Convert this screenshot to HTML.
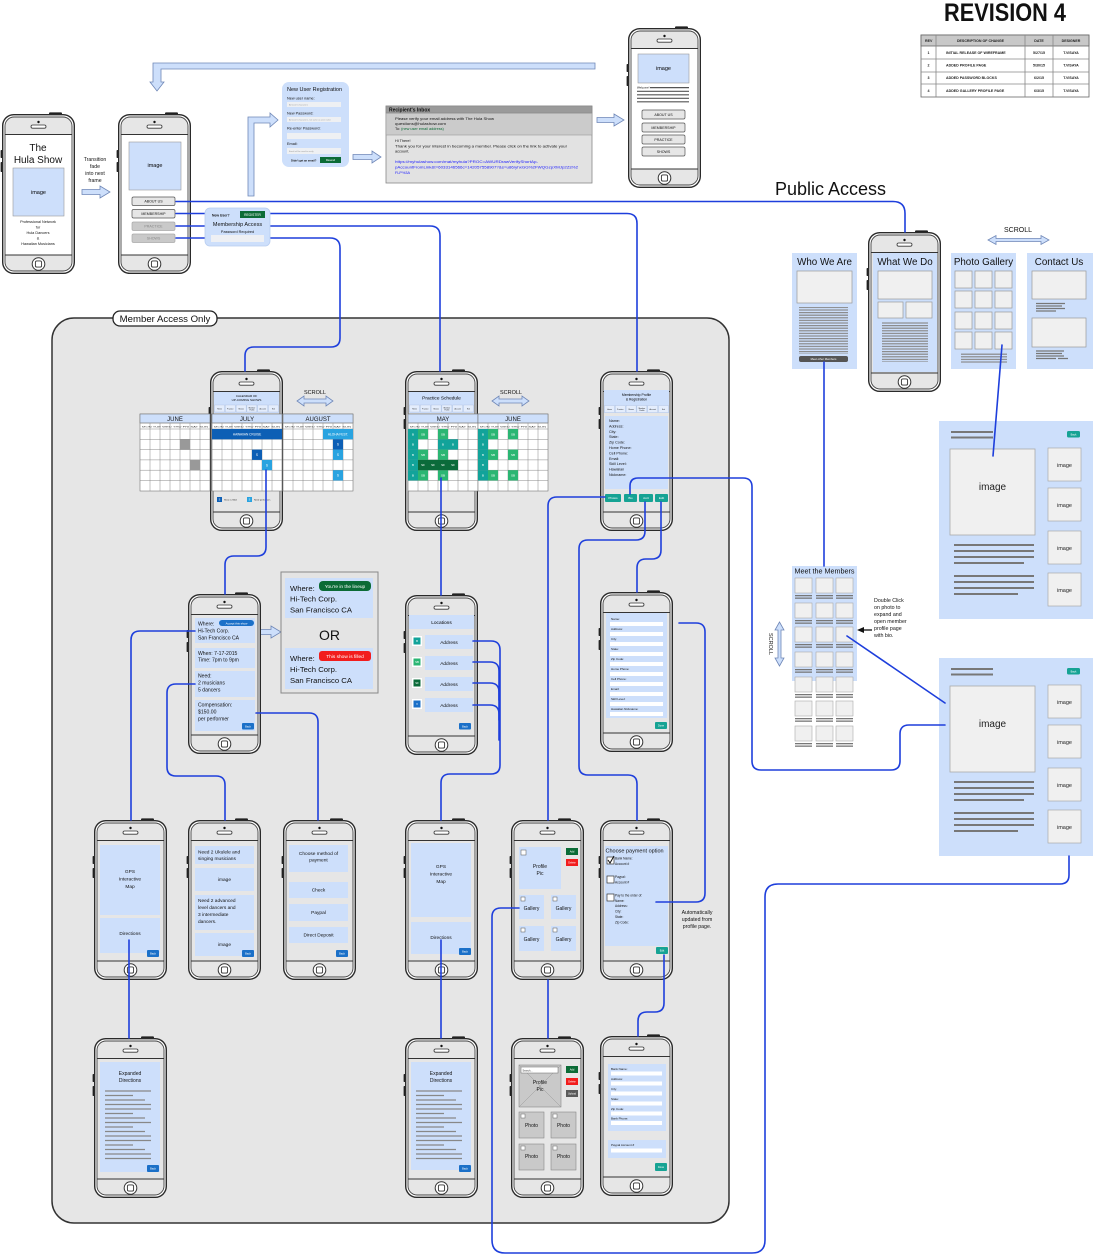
<!DOCTYPE html>
<html><head><meta charset="utf-8"><style>
html,body{margin:0;padding:0;background:#fff;}
svg{display:block;font-family:"Liberation Sans",Arial,sans-serif;}
</style></head><body>
<svg width="1093" height="1255" viewBox="0 0 1093 1255" xmlns="http://www.w3.org/2000/svg" xmlns:xlink="http://www.w3.org/1999/xlink">
<defs>
<g id="ph">
<rect x="47" y="-1.6" width="13" height="3.2" rx="1" fill="#222"/>
<rect x="-1.4" y="36" width="2.8" height="8" rx="0.8" fill="#222"/>
<rect x="-1.4" y="48" width="2.8" height="10" rx="0.8" fill="#222"/>
<rect x="0.7" y="0.7" width="71.6" height="158.6" rx="11" fill="#fff" stroke="#2a2a2a" stroke-width="1.4"/>
<rect x="3" y="3" width="67" height="154" rx="9" fill="#e6e6e6" stroke="#444" stroke-width="0.9"/>
<path d="M3 20.5H70M3 141H70" stroke="#333" stroke-width="0.9"/>
<circle cx="36.5" cy="8" r="1.2" fill="#111"/>
<rect x="29" y="11" width="15" height="3.2" rx="1.6" fill="#fff" stroke="#333" stroke-width="0.8"/>
<circle cx="36.5" cy="150" r="6.3" fill="#fff" stroke="#333" stroke-width="1"/>
<rect x="33.4" y="146.9" width="6.2" height="6.2" rx="1.5" fill="none" stroke="#333" stroke-width="0.9"/>
</g>
<g id="mg">
<rect x="0" y="414" width="70" height="77" fill="#fff" stroke="#777" stroke-width="0.6"/>
<rect x="0" y="414" width="70" height="9" fill="#cddffb" stroke="#777" stroke-width="0.6"/>
<path d="M0 423h70M0 429h70M0 439.3h70M0 449.6h70M0 459.9h70M0 470.2h70M0 480.5h70M10 423V491M20 423V491M30 423V491M40 423V491M50 423V491M60 423V491" stroke="#888" stroke-width="0.5" fill="none"/>
<text x="2" y="427.3" font-size="2" textLength="66" lengthAdjust="spacingAndGlyphs" fill="#333">MON TUE WED THU FRI SAT SUN</text>
</g>
<g id="nav" font-size="1.8" text-anchor="middle" fill="#222">
<rect x="0" y="0" width="10" height="7" fill="#e4edfc" stroke="#9fb3d6" stroke-width="0.3"/>
<rect x="10.8" y="0" width="10" height="7" fill="#e4edfc" stroke="#9fb3d6" stroke-width="0.3"/>
<rect x="21.6" y="0" width="10" height="7" fill="#e4edfc" stroke="#9fb3d6" stroke-width="0.3"/>
<rect x="32.4" y="0" width="10" height="7" fill="#e4edfc" stroke="#9fb3d6" stroke-width="0.3"/>
<rect x="43.2" y="0" width="10" height="7" fill="#e4edfc" stroke="#9fb3d6" stroke-width="0.3"/>
<rect x="54" y="0" width="10" height="7" fill="#e4edfc" stroke="#9fb3d6" stroke-width="0.3"/>
<text x="5" y="4.3">Home</text><text x="15.8" y="4.3">Practice</text><text x="26.6" y="4.3">Shows</text><text x="37.4" y="3.3">Member</text><text x="37.4" y="5.5">Profile</text><text x="48.2" y="4.3">Account</text><text x="59" y="4.3">Exit</text>
</g>
<g id="mc">
<rect x="0" y="0" width="17" height="15" fill="#f0f0f0" stroke="#aaa" stroke-width="0.6"/>
<rect x="0" y="17" width="17" height="1.3" fill="#777"/>
<rect x="0" y="19.5" width="17" height="1.3" fill="#777"/>
</g>
<g id="gi">
<rect x="0" y="0" width="33" height="33" fill="#f0f0f0" stroke="#aaa" stroke-width="0.7"/>
<text x="16.5" y="19" font-size="5.5" text-anchor="middle" fill="#222">image</text>
</g>
<g id="gp">
<rect x="939" y="0" width="154" height="198" fill="#cddffb"/>
<rect x="951" y="10" width="42" height="2" fill="#777"/>
<rect x="951" y="15.5" width="42" height="2" fill="#777"/>
<rect x="1067" y="10" width="13" height="6.5" rx="1.5" fill="#16a394"/>
<text x="1073.5" y="14.3" font-size="2.6" fill="#fff" text-anchor="middle">Back</text>
<rect x="950" y="28" width="85" height="86" fill="#f0f0f0" stroke="#aaa" stroke-width="0.8"/>
<text x="992.5" y="69" font-size="10" text-anchor="middle" fill="#222">image</text>
<path d="M954 124h80M954 130h80M954 136h80M954 142h70M954 155h80M954 161h80M954 167h80M954 173h64" stroke="#777" stroke-width="2"/>
<use xlink:href="#gi" x="1048" y="27"/>
<use xlink:href="#gi" x="1048" y="67"/>
<use xlink:href="#gi" x="1048" y="110"/>
<use xlink:href="#gi" x="1048" y="152"/>
</g>
<pattern id="hl" width="4" height="2.6" patternUnits="userSpaceOnUse"><rect width="4" height="1.2" fill="#8a8a8a"/></pattern>
</defs>

<!-- Revision -->
<text x="944" y="21" font-size="25" font-weight="bold" textLength="122" lengthAdjust="spacingAndGlyphs" fill="#111">REVISION 4</text>
<rect x="921" y="35" width="168" height="62" fill="#fff" stroke="#666" stroke-width="0.8"/>
<rect x="921" y="35" width="168" height="11" fill="#c8c8c8" stroke="#666" stroke-width="0.8"/>
<path d="M921 59h168M921 72h168M921 84h168M936 35v62M1025 35v62M1053 35v62" stroke="#888" stroke-width="0.8"/>
<g font-size="3.6" font-weight="bold" fill="#222">
<text x="925" y="42">REV</text>
<text x="980.5" y="42" text-anchor="middle">DESCRIPTION OF CHANGE</text>
<text x="1039" y="42" text-anchor="middle">DATE</text>
<text x="1071" y="42" text-anchor="middle">DESIGNER</text>
<text x="928.5" y="54" text-anchor="middle">1</text><text x="946" y="54">INITIAL RELEASE OF WIREFRAME</text><text x="1039" y="54" text-anchor="middle">5/27/15</text><text x="1071" y="54" text-anchor="middle">T.VISAYA</text>
<text x="928.5" y="66.5" text-anchor="middle">2</text><text x="946" y="66.5">ADDED PROFILE PAGE</text><text x="1039" y="66.5" text-anchor="middle">5/30/15</text><text x="1071" y="66.5" text-anchor="middle">T.VISAYA</text>
<text x="928.5" y="79" text-anchor="middle">3</text><text x="946" y="79">ADDED PASSWORD BLOCKS</text><text x="1039" y="79" text-anchor="middle">6/2/15</text><text x="1071" y="79" text-anchor="middle">T.VISAYA</text>
<text x="928.5" y="92" text-anchor="middle">4</text><text x="946" y="92">ADDED GALLERY PROFILE PAGE</text><text x="1039" y="92" text-anchor="middle">6/3/15</text><text x="1071" y="92" text-anchor="middle">T.VISAYA</text>
</g>

<!-- Member area -->
<rect x="52" y="318" width="677" height="905" rx="22" fill="#e6e6e6" stroke="#333" stroke-width="1.5"/>

<!-- hollow arrows -->
<g fill="#cddffb" stroke="#6f87b7" stroke-width="0.8">
<polygon points="595,63 153,63 153,82 150,82 157,91 164,82 161,82 161,69 595,69"/>
<polygon points="82,189.5 100,189.5 100,186 110,192 100,198 100,194.5 82,194.5"/>
<polygon points="248,196 248,117 270,117 270,113 278,120 270,127 270,123 254,123 254,196"/>
<polygon points="353,154.5 372,154.5 372,151 381,157 372,163 372,159.5 353,159.5"/>
<polygon points="597,117.5 614,117.5 614,114 624,120 614,126 614,122.5 597,122.5"/>
<polygon points="255,629.5 271,629.5 271,626 281,632 271,638 271,634.5 255,634.5"/>
<polygon points="297,401 304,396 304,399 326,399 326,396 333,401 326,406 326,403 304,403 304,406"/>
<polygon points="492,401 499,396 499,399 522,399 522,396 529,401 522,406 522,403 499,403 499,406"/>
<polygon points="988,240 996,235.5 996,238.5 1041,238.5 1041,235.5 1049,240 1041,244.5 1041,241.5 996,241.5 996,244.5"/>
<polygon points="779.5,622 784,630 781,630 781,658 784,658 779.5,666 775,658 778,658 778,630 775,630"/>
</g>

<!-- Phones -->
<use xlink:href="#ph" x="2" y="114"/>
<use xlink:href="#ph" x="118" y="114"/>
<use xlink:href="#ph" x="628" y="28"/>
<use xlink:href="#ph" x="868" y="232"/>
<use xlink:href="#ph" x="210" y="371"/>
<use xlink:href="#ph" x="405" y="371"/>
<use xlink:href="#ph" x="600" y="371"/>
<use xlink:href="#ph" x="188" y="594"/>
<use xlink:href="#ph" x="405" y="595"/>
<use xlink:href="#ph" x="600" y="592"/>
<use xlink:href="#ph" x="94" y="820"/>
<use xlink:href="#ph" x="188" y="820"/>
<use xlink:href="#ph" x="283" y="820"/>
<use xlink:href="#ph" x="405" y="820"/>
<use xlink:href="#ph" x="511" y="820"/>
<use xlink:href="#ph" x="600" y="820"/>
<use xlink:href="#ph" x="94" y="1038"/>
<use xlink:href="#ph" x="405" y="1038"/>
<use xlink:href="#ph" x="511" y="1038"/>
<use xlink:href="#ph" x="600" y="1036"/>

<!-- white screens -->
<rect x="5.5" y="135" width="66" height="119.5" fill="#fff"/>
<rect x="121.5" y="135" width="66" height="119.5" fill="#fff"/>
<rect x="631.5" y="49" width="66" height="119.5" fill="#fff"/>

<!-- Phone A -->
<text x="38" y="151" font-size="10" text-anchor="middle" fill="#111">The</text>
<text x="38" y="163" font-size="10" text-anchor="middle" fill="#111">Hula Show</text>
<rect x="13" y="168" width="51" height="48" fill="#cddffb" stroke="#999" stroke-width="0.6"/>
<text x="38.5" y="194" font-size="5.5" text-anchor="middle">image</text>
<g font-size="3.8" text-anchor="middle" fill="#111">
<text x="38" y="223">Professional Network</text><text x="38" y="228.5">for</text><text x="38" y="234">Hula Dancers</text><text x="38" y="239.5">&amp;</text><text x="38" y="245">Hawaiian Musicians</text>
</g>
<g font-size="5.2" text-anchor="middle" fill="#111">
<text x="95" y="161">Transition</text><text x="95" y="168">fade</text><text x="95" y="175">into next</text><text x="95" y="182">frame</text>
</g>

<!-- Phone B -->
<rect x="129" y="142" width="52" height="48" fill="#cddffb" stroke="#999" stroke-width="0.6"/>
<text x="155" y="167" font-size="5.5" text-anchor="middle">image</text>
<rect x="132" y="197" width="43" height="8.5" rx="1.5" fill="#e6e6e6" stroke="#555" stroke-width="0.7"/>
<rect x="132" y="209.5" width="43" height="8.5" rx="1.5" fill="#e6e6e6" stroke="#555" stroke-width="0.7"/>
<rect x="132" y="222" width="43" height="8.5" rx="1.5" fill="#c9c9c9" stroke="#aaa" stroke-width="0.7"/>
<rect x="132" y="234" width="43" height="8.5" rx="1.5" fill="#c9c9c9" stroke="#aaa" stroke-width="0.7"/>
<g font-size="3.6" text-anchor="middle">
<text x="153.5" y="202.6" fill="#111">ABOUT US</text><text x="153.5" y="215.1" fill="#111">MEMBERSHIP</text><text x="153.5" y="227.6" fill="#888">PRACTICE</text><text x="153.5" y="239.6" fill="#888">SHOWS</text>
</g>

<!-- Welcome phone -->
<rect x="638" y="54" width="51" height="29" fill="#cddffb" stroke="#999" stroke-width="0.6"/>
<text x="663.5" y="70" font-size="5.5" text-anchor="middle">image</text>
<text x="637" y="88.5" font-size="2.8">Welcome!</text>
<path d="M650 87.6h39M637 91.3h52M637 94.8h52M637 98.3h52M637 101.8h52" stroke="#555" stroke-width="1.2"/>
<rect x="642" y="110" width="43" height="9" rx="1.5" fill="#e6e6e6" stroke="#555" stroke-width="0.7"/>
<rect x="642" y="123" width="43" height="9" rx="1.5" fill="#e6e6e6" stroke="#555" stroke-width="0.7"/>
<rect x="642" y="135" width="43" height="9" rx="1.5" fill="#e6e6e6" stroke="#555" stroke-width="0.7"/>
<rect x="642" y="147" width="43" height="9" rx="1.5" fill="#e6e6e6" stroke="#555" stroke-width="0.7"/>
<g font-size="3.6" text-anchor="middle" fill="#111">
<text x="663.5" y="115.8">ABOUT US</text><text x="663.5" y="128.8">MEMBERSHIP</text><text x="663.5" y="140.8">PRACTICE</text><text x="663.5" y="152.8">SHOWS</text>
</g>

<!-- New User Registration -->
<rect x="282" y="82" width="67" height="85" rx="7" fill="#cddffb"/>
<text x="287" y="91" font-size="5.5" fill="#111">New User Registration</text>
<g font-size="3.8" fill="#111">
<text x="287" y="99.5">New user name:</text><text x="287" y="114.5">New Password:</text><text x="287" y="129.5">Re-enter Password:</text><text x="287" y="145">Email:</text>
</g>
<rect x="287" y="102" width="54" height="5" fill="#eef0f3"/>
<rect x="287" y="117" width="54" height="5" fill="#eef0f3"/>
<rect x="287" y="133" width="54" height="6" fill="#eef0f3"/>
<rect x="287" y="148" width="54" height="6" fill="#eef0f3"/>
<g font-size="2.1" fill="#999">
<text x="289" y="105.5">At least 6 characters</text><text x="289" y="120.5">At least 6 characters, not same as user name</text><text x="289" y="152">Email will be used to verify</text>
</g>
<text x="291" y="161.4" font-size="2.7" font-weight="bold" fill="#111">Didn't get an email?</text>
<rect x="320" y="157" width="21" height="6" fill="#0b6b36"/>
<text x="330.5" y="161" font-size="2.7" fill="#fff" text-anchor="middle">Resend</text>

<!-- Inbox -->
<rect x="386" y="106" width="206" height="77" fill="#e2e2e2" stroke="#888" stroke-width="0.8"/>
<rect x="386" y="113" width="206" height="22" fill="#cbcbcb" stroke="#999" stroke-width="0.6"/>
<rect x="386" y="106" width="206" height="7" fill="#9a9a9a" stroke="#888" stroke-width="0.6"/>
<text x="389" y="111.6" font-size="5" font-weight="bold" fill="#111">Recipient's Inbox</text>
<g font-size="3.8" fill="#111">
<text x="395" y="120" textLength="99" lengthAdjust="spacingAndGlyphs">Please verify your email address with The Hula Show</text>
<text x="395" y="125" textLength="51" lengthAdjust="spacingAndGlyphs">questions@hulashow.com</text>
<text x="395" y="130">To: <tspan fill="#0b6b36">(new user email address)</tspan></text>
<text x="395" y="142">Hi There!</text>
<text x="395" y="147.5" textLength="172" lengthAdjust="spacingAndGlyphs">Thank you for your interest in becoming a member. Please click on the link to activate your</text>
<text x="395" y="152.5">account.</text>
</g>
<g font-size="3.8" fill="#1a1aff">
<text x="395" y="163" textLength="143" lengthAdjust="spacingAndGlyphs">https://myhulashow.com/mat/myhula?PROC=AWURDrawVerifyShortAp-</text>
<text x="395" y="168.5" textLength="183" lengthAdjust="spacingAndGlyphs">pAccountFromLink&amp;t=6033146566c=142057558907?&amp;s=u86/yhxGG%2FWQGzpXMJp2Zs%2</text>
<text x="395" y="174">FLP%3A</text>
</g>

<!-- Public Access -->
<text x="775" y="195" font-size="18" fill="#111">Public Access</text>
<text x="1018" y="232" font-size="7" text-anchor="middle" fill="#111">SCROLL</text>

<!-- Who We Are -->
<rect x="792" y="253" width="65" height="116" fill="#cddffb"/>
<text x="824.5" y="265" font-size="9.8" text-anchor="middle" fill="#111">Who We Are</text>
<rect x="797" y="271" width="55" height="32" fill="#f0f0f0" stroke="#999" stroke-width="0.7"/>
<rect x="799" y="307" width="49" height="47" fill="url(#hl)"/>
<rect x="799" y="356" width="49" height="6" rx="2" fill="#555"/>
<text x="823.5" y="360.2" font-size="2.8" fill="#fff" text-anchor="middle">Meet other Members</text>

<!-- What We Do -->
<rect x="873" y="253" width="64" height="119" fill="#cddffb"/>
<text x="905" y="265" font-size="9.8" text-anchor="middle" fill="#111">What We Do</text>
<rect x="878" y="271" width="54" height="28" fill="#f0f0f0" stroke="#999" stroke-width="0.7"/>
<rect x="878" y="302" width="25" height="16" fill="#f0f0f0" stroke="#999" stroke-width="0.7"/>
<rect x="906" y="302" width="26" height="16" fill="#f0f0f0" stroke="#999" stroke-width="0.7"/>
<rect x="882" y="322" width="46" height="40" fill="url(#hl)"/>

<!-- Photo Gallery -->
<rect x="951" y="253" width="65" height="116" fill="#cddffb"/>
<text x="983.5" y="265" font-size="9.8" text-anchor="middle" fill="#111">Photo Gallery</text>
<g fill="#f0f0f0" stroke="#999" stroke-width="0.7">
<rect x="955" y="271" width="17" height="17"/><rect x="975" y="271" width="17" height="17"/><rect x="995" y="271" width="17" height="17"/>
<rect x="955" y="291" width="17" height="17"/><rect x="975" y="291" width="17" height="17"/><rect x="995" y="291" width="17" height="17"/>
<rect x="955" y="312" width="17" height="17"/><rect x="975" y="312" width="17" height="17"/><rect x="995" y="312" width="17" height="17"/>
<rect x="955" y="332" width="17" height="17"/><rect x="975" y="332" width="17" height="17"/><rect x="995" y="332" width="17" height="17"/>
</g>
<rect x="961" y="353" width="46" height="10" fill="url(#hl)"/>

<!-- Contact Us -->
<rect x="1027" y="253" width="66" height="116" fill="#cddffb"/>
<text x="1059" y="265" font-size="9.8" text-anchor="middle" fill="#111">Contact Us</text>
<rect x="1032" y="271" width="54" height="28" fill="#f0f0f0" stroke="#999" stroke-width="0.7"/>
<rect x="1032" y="318" width="54" height="29" fill="#f0f0f0" stroke="#999" stroke-width="0.7"/>
<path d="M1036 303.5h29M1036 306h26M1036 308.5h29M1036 311h20M1036 351h28M1036 353.5h26M1036 356h28M1036 358.5h20M1058 358.5h10" stroke="#777" stroke-width="1.2"/>

<!-- Right gallery panels -->
<use xlink:href="#gp" x="0" y="421"/>
<use xlink:href="#gp" x="0" y="658"/>

<!-- Meet the Members -->
<rect x="792" y="566" width="65" height="115" fill="#cddffb"/>
<text x="824.5" y="573.5" font-size="7.2" text-anchor="middle" fill="#111">Meet the Members</text>
<use xlink:href="#mc" x="795" y="578"/><use xlink:href="#mc" x="816" y="578"/><use xlink:href="#mc" x="836" y="578"/>
<use xlink:href="#mc" x="795" y="603"/><use xlink:href="#mc" x="816" y="603"/><use xlink:href="#mc" x="836" y="603"/>
<use xlink:href="#mc" x="795" y="627"/><use xlink:href="#mc" x="816" y="627"/><use xlink:href="#mc" x="836" y="627"/>
<use xlink:href="#mc" x="795" y="652"/><use xlink:href="#mc" x="816" y="652"/><use xlink:href="#mc" x="836" y="652"/>
<use xlink:href="#mc" x="795" y="677"/><use xlink:href="#mc" x="816" y="677"/><use xlink:href="#mc" x="836" y="677"/>
<use xlink:href="#mc" x="795" y="701"/><use xlink:href="#mc" x="816" y="701"/><use xlink:href="#mc" x="836" y="701"/>
<use xlink:href="#mc" x="795" y="726"/><use xlink:href="#mc" x="816" y="726"/><use xlink:href="#mc" x="836" y="726"/>
<text transform="translate(769,644) rotate(90)" font-size="5.5" text-anchor="middle" fill="#111">SCROLL</text>
<g font-size="5.3" fill="#111">
<text x="874" y="602">Double Click</text><text x="874" y="609">on photo to</text><text x="874" y="616">expand and</text><text x="874" y="623">open member</text><text x="874" y="630">profile page</text><text x="874" y="637">with bio.</text>
</g>
<polygon points="857,630 864,627 864,633" fill="#111"/>
<path d="M863 630h9" stroke="#111" stroke-width="1.3"/>

<!-- Member Access label -->
<rect x="113" y="311" width="104" height="15" rx="7" fill="#fff" stroke="#222" stroke-width="1.3"/>
<text x="165" y="322" font-size="9.6" text-anchor="middle" fill="#111">Member Access Only</text>

<!-- Calendar phone -->
<rect x="214" y="392" width="65" height="21" fill="#cddffb"/>
<text x="246.5" y="396.8" font-size="3" text-anchor="middle">CALENDAR OF</text>
<text x="246.5" y="400.8" font-size="3" text-anchor="middle">UP-COMING SHOWS</text>
<use xlink:href="#nav" x="214.5" y="405"/>
<use xlink:href="#mg" x="140" y="0"/>
<use xlink:href="#mg" x="212" y="0"/>
<use xlink:href="#mg" x="283" y="0"/>
<g font-size="6" text-anchor="middle" fill="#111">
<text x="175" y="421">JUNE</text><text x="247" y="421">JULY</text><text x="318" y="421">AUGUST</text>
</g>
<rect x="180" y="439.3" width="10" height="10.3" fill="#999"/>
<rect x="190" y="459.9" width="10" height="10.3" fill="#999"/>
<rect x="212" y="429" width="70" height="10.3" fill="#0d5fb5"/>
<text x="247" y="435.4" font-size="3.2" text-anchor="middle" fill="#fff">HAWAIIAN CRUISE</text>
<rect x="252" y="449.6" width="10" height="10.3" fill="#0d5fb5"/>
<rect x="262" y="459.9" width="10" height="10.3" fill="#29a3e0"/>
<rect x="323" y="429" width="30" height="10.3" fill="#29a3e0"/>
<text x="338" y="435.4" font-size="3.2" text-anchor="middle" fill="#fff">ALOHA FEST.</text>
<rect x="333" y="439.3" width="10" height="10.3" fill="#0d5fb5"/>
<rect x="333" y="449.6" width="10" height="10.3" fill="#29a3e0"/>
<rect x="333" y="470.2" width="10" height="10.3" fill="#29a3e0"/>
<g font-size="3.2" text-anchor="middle" fill="#fff">
<text x="257" y="456">S</text><text x="267" y="466.3">S</text><text x="338" y="445.7">S</text><text x="338" y="456">S</text><text x="338" y="476.6">S</text>
</g>
<rect x="217" y="497" width="5" height="5" fill="#0d5fb5"/>
<rect x="247" y="497" width="5" height="5" fill="#29a3e0"/>
<g font-size="2.2" fill="#222"><text x="224" y="500.6">Show is filled</text><text x="254" y="500.6">Need performers</text></g>
<g font-size="2.5" fill="#fff" text-anchor="middle"><text x="219.5" y="500.6">S</text><text x="249.5" y="500.6">S</text></g>
<text x="315" y="394" font-size="5.5" text-anchor="middle" fill="#111">SCROLL</text>

<!-- Practice phone -->
<rect x="409" y="392" width="65" height="21" fill="#cddffb"/>
<text x="441.5" y="399.5" font-size="4.8" text-anchor="middle">Practice Schedule</text>
<use xlink:href="#nav" x="409.5" y="405"/>
<use xlink:href="#mg" x="408" y="0"/>
<use xlink:href="#mg" x="478" y="0"/>
<g font-size="6" text-anchor="middle" fill="#111"><text x="443" y="421">MAY</text><text x="513" y="421">JUNE</text></g>
<g fill="#12a39a">
<rect x="408" y="429" width="10" height="10.3"/><rect x="408" y="439.3" width="10" height="10.3"/><rect x="408" y="449.6" width="10" height="10.3"/><rect x="408" y="459.9" width="10" height="10.3"/><rect x="408" y="470.2" width="10" height="10.3"/>
<rect x="438" y="439.3" width="10" height="10.3"/><rect x="448" y="439.3" width="10" height="10.3"/>
<rect x="478" y="429" width="10" height="10.3"/><rect x="478" y="439.3" width="10" height="10.3"/><rect x="478" y="449.6" width="10" height="10.3"/><rect x="478" y="459.9" width="10" height="10.3"/><rect x="478" y="470.2" width="10" height="10.3"/>
</g>
<g fill="#2bb673">
<rect x="418" y="429" width="10" height="10.3"/><rect x="438" y="429" width="10" height="10.3"/>
<rect x="418" y="449.6" width="10" height="10.3"/><rect x="438" y="449.6" width="10" height="10.3"/>
<rect x="418" y="470.2" width="10" height="10.3"/><rect x="438" y="470.2" width="10" height="10.3"/>
<rect x="488" y="429" width="10" height="10.3"/><rect x="508" y="429" width="10" height="10.3"/>
<rect x="488" y="449.6" width="10" height="10.3"/><rect x="508" y="449.6" width="10" height="10.3"/>
<rect x="488" y="470.2" width="10" height="10.3"/><rect x="508" y="470.2" width="10" height="10.3"/>
</g>
<g fill="#0b6b3a">
<rect x="418" y="459.9" width="10" height="10.3"/><rect x="428" y="459.9" width="10" height="10.3"/><rect x="438" y="459.9" width="10" height="10.3"/><rect x="448" y="459.9" width="10" height="10.3"/>
</g>
<g font-size="3" text-anchor="middle" fill="#fff">
<text x="413" y="435.3">B</text><text x="413" y="445.6">B</text><text x="413" y="455.9">B</text><text x="413" y="466.2">B</text><text x="413" y="476.5">B</text>
<text x="443" y="445.6">B</text><text x="453" y="445.6">B</text>
<text x="483" y="435.3">B</text><text x="483" y="445.6">B</text><text x="483" y="455.9">B</text><text x="483" y="466.2">B</text><text x="483" y="476.5">B</text>
<text x="423" y="435.3">SB</text><text x="443" y="435.3">SB</text><text x="423" y="455.9">SB</text><text x="443" y="455.9">SB</text><text x="423" y="476.5">SB</text><text x="443" y="476.5">SB</text>
<text x="493" y="435.3">SB</text><text x="513" y="435.3">SB</text><text x="493" y="455.9">SB</text><text x="513" y="455.9">SB</text><text x="493" y="476.5">SB</text><text x="513" y="476.5">SB</text>
<text x="423" y="466.2">SF</text><text x="433" y="466.2">SF</text><text x="443" y="466.2">SF</text><text x="453" y="466.2">SF</text>
</g>
<text x="511" y="394" font-size="5.5" text-anchor="middle" fill="#111">SCROLL</text>

<!-- Profile phone -->
<rect x="604" y="390" width="65" height="23" fill="#cddffb"/>
<text x="636.5" y="395.8" font-size="3.4" text-anchor="middle">Membership Profile</text>
<text x="636.5" y="400.3" font-size="3.4" text-anchor="middle">&amp; Registration</text>
<use xlink:href="#nav" x="604.5" y="405.5"/>
<rect x="605" y="416" width="63" height="73" fill="#cddffb"/>
<g font-size="3.7" fill="#111">
<text x="609" y="422">Name:</text><text x="609" y="427.4">Address:</text><text x="609" y="432.8">City:</text><text x="609" y="438.2">State:</text><text x="609" y="443.6">Zip Code:</text><text x="609" y="449">Home Phone:</text><text x="609" y="454.4">Cell Phone:</text><text x="609" y="459.8">Email:</text><text x="609" y="465.2">Skill Level:</text><text x="609" y="470.6">Hawaiian</text><text x="609" y="476">Nickname:</text>
</g>
<g fill="#16a394"><rect x="605" y="494" width="16" height="8" rx="1"/><rect x="624" y="494" width="13" height="8" rx="1"/><rect x="639" y="494" width="14" height="8" rx="1"/><rect x="655" y="494" width="13" height="8" rx="1"/></g>
<g font-size="3" fill="#fff" text-anchor="middle"><text x="613" y="499">Photos</text><text x="630.5" y="499">Bio</text><text x="646" y="499">Acct</text><text x="661.5" y="499">Edit</text></g>

<!-- Details phone -->
<g fill="#cddffb"><rect x="195" y="618" width="60" height="25"/><rect x="195" y="648" width="60" height="20"/><rect x="195" y="671" width="60" height="26"/><rect x="195" y="700" width="60" height="31"/></g>
<g font-size="5.1" fill="#111">
<text x="198" y="625.5">Where:</text><text x="198" y="632.5">Hi-Tech Corp.</text><text x="198" y="639.5">San Francisco CA</text>
<text x="198" y="655">When:  7-17-2015</text><text x="198" y="661.5">Time:  7pm to 9pm</text>
<text x="198" y="677.5">Need:</text><text x="198" y="684.5">2 musicians</text><text x="198" y="691.5">5 dancers</text>
<text x="198" y="706.5">Compensation:</text><text x="198" y="713.5">$150.00</text><text x="198" y="720.5">per performer</text>
</g>
<rect x="219" y="620" width="35" height="6" rx="3" fill="#1b70c8"/>
<text x="236.5" y="624.3" font-size="2.9" fill="#fff" text-anchor="middle">Accept this show</text>

<!-- OR box -->
<rect x="281" y="572" width="97" height="121" fill="#e4e4e4" stroke="#888" stroke-width="1"/>
<rect x="285" y="578" width="88" height="40" fill="#cddffb"/>
<rect x="285" y="648" width="88" height="41" fill="#cddffb"/>
<g font-size="7.7" fill="#111">
<text x="290" y="591">Where:</text><text x="290" y="601.5">Hi-Tech Corp.</text><text x="290" y="612.5">San Francisco CA</text>
<text x="290" y="661">Where:</text><text x="290" y="672">Hi-Tech Corp.</text><text x="290" y="683">San Francisco CA</text>
</g>
<rect x="319" y="581" width="52" height="10" rx="4" fill="#0b6b36"/>
<text x="345" y="588" font-size="4.8" fill="#fff" text-anchor="middle">You're in the lineup</text>
<rect x="319" y="651" width="52" height="10" rx="3" fill="#f21d1d"/>
<text x="345" y="658" font-size="4.8" fill="#fff" text-anchor="middle">This show is filled</text>
<text x="329.5" y="640" font-size="14" text-anchor="middle" fill="#111">OR</text>

<!-- Locations phone -->
<rect x="409" y="615" width="65" height="14" fill="#cddffb"/>
<text x="441.5" y="623.8" font-size="4.8" text-anchor="middle">Locations</text>
<g fill="#fff"><rect x="412" y="636" width="10" height="10"/><rect x="412" y="657" width="10" height="10"/><rect x="412" y="678" width="10" height="10"/><rect x="412" y="699" width="10" height="10"/></g>
<rect x="413.5" y="637.5" width="7" height="7" fill="#12a39a"/>
<rect x="413.5" y="658.5" width="7" height="7" fill="#2bb673"/>
<rect x="413.5" y="679.5" width="7" height="7" fill="#0b6b3a"/>
<rect x="413.5" y="700.5" width="7" height="7" fill="#1b70c8"/>
<g font-size="2.8" fill="#fff" text-anchor="middle"><text x="417" y="642">B</text><text x="417" y="663">SB</text><text x="417" y="684">SF</text><text x="417" y="705">V</text></g>
<g fill="#cddffb"><rect x="425" y="635" width="48" height="14"/><rect x="425" y="656" width="48" height="14"/><rect x="425" y="677" width="48" height="14"/><rect x="425" y="698" width="48" height="14"/></g>
<g font-size="4.8" text-anchor="middle" fill="#111"><text x="449" y="643.8">Address</text><text x="449" y="664.8">Address</text><text x="449" y="685.8">Address</text><text x="449" y="706.8">Address</text></g>

<!-- Edit phone -->
<rect x="606" y="613" width="61" height="105" fill="#cddffb"/>
<g font-size="3" fill="#111">
<text x="611" y="620">Name:</text><text x="611" y="630">Address:</text><text x="611" y="640">City:</text><text x="611" y="650">State:</text><text x="611" y="660">Zip Code:</text><text x="611" y="670">Home Phone:</text><text x="611" y="680">Cell Phone:</text><text x="611" y="690">Email:</text><text x="611" y="700">Skill Level:</text><text x="611" y="710">Hawaiian Nickname:</text>
</g>
<g fill="#fff">
<rect x="610" y="622" width="53" height="4"/><rect x="610" y="632" width="53" height="4"/><rect x="610" y="642" width="53" height="4"/><rect x="610" y="652" width="53" height="4"/><rect x="610" y="662" width="53" height="4"/><rect x="610" y="672" width="53" height="4"/><rect x="610" y="682" width="53" height="4"/><rect x="610" y="692" width="53" height="4"/><rect x="610" y="702" width="53" height="4"/><rect x="610" y="712" width="53" height="4"/>
</g>

<!-- GPS phone -->
<rect x="100" y="845" width="60" height="70" fill="#cddffb"/>
<rect x="100" y="918" width="60" height="35" fill="#cddffb"/>
<g font-size="4.8" text-anchor="middle" fill="#111"><text x="130" y="873">GPS</text><text x="130" y="880.5">Interactive</text><text x="130" y="888">Map</text><text x="130" y="935">Directions</text></g>

<!-- Need phone -->
<g fill="#cddffb"><rect x="195" y="846" width="59" height="18"/><rect x="195" y="868" width="59" height="23"/><rect x="195" y="895" width="59" height="35"/><rect x="195" y="933" width="59" height="23"/></g>
<g font-size="4.8" fill="#111">
<text x="198" y="853.5">Need 2 Ukulele and</text><text x="198" y="860">singing musicians</text>
<text x="198" y="902">Need 2 advanced</text><text x="198" y="909">level dancers and</text><text x="198" y="916">3 intermediate</text><text x="198" y="923">dancers.</text>
</g>
<g font-size="4.8" text-anchor="middle" fill="#111"><text x="224.5" y="881">image</text><text x="224.5" y="946">image</text></g>

<!-- Payment phone -->
<g fill="#cddffb"><rect x="289" y="845" width="59" height="27"/><rect x="289" y="882" width="59" height="16"/><rect x="289" y="904" width="59" height="17"/><rect x="289" y="927" width="59" height="16"/></g>
<g font-size="4.8" text-anchor="middle" fill="#111"><text x="318.5" y="855">Choose method of</text><text x="318.5" y="861.5">payment</text><text x="318.5" y="891.5">Check</text><text x="318.5" y="914">Paypal</text><text x="318.5" y="936.5">Direct Deposit</text></g>

<!-- GPS2 phone -->
<rect x="411" y="843" width="60" height="74" fill="#cddffb"/>
<rect x="411" y="922" width="60" height="32" fill="#cddffb"/>
<g font-size="4.8" text-anchor="middle" fill="#111"><text x="441" y="868">GPS</text><text x="441" y="875.5">Interactive</text><text x="441" y="883">Map</text><text x="441" y="939">Directions</text></g>

<!-- Gallery phone -->
<g fill="#cddffb"><rect x="519" y="847" width="42" height="42"/><rect x="519" y="895" width="25" height="24"/><rect x="551" y="895" width="25" height="24"/><rect x="519" y="926" width="25" height="25"/><rect x="551" y="926" width="25" height="25"/></g>
<g fill="#fff" stroke="#555" stroke-width="0.5"><rect x="521" y="850" width="5" height="5"/><rect x="521" y="897" width="4" height="4"/><rect x="553" y="897" width="4" height="4"/><rect x="521" y="928" width="4" height="4"/><rect x="553" y="928" width="4" height="4"/></g>
<g font-size="5" text-anchor="middle" fill="#111"><text x="540" y="868">Profile</text><text x="540" y="875">Pic</text><text x="531.5" y="910">Gallery</text><text x="563.5" y="910">Gallery</text><text x="531.5" y="941">Gallery</text><text x="563.5" y="941">Gallery</text></g>
<rect x="566" y="848" width="12" height="7" fill="#0b6b36"/><rect x="566" y="859" width="12" height="7" fill="#f21d1d"/>
<g font-size="2.6" fill="#fff" text-anchor="middle"><text x="572" y="852.6">Add</text><text x="572" y="863.6">Delete</text></g>

<!-- Payment option phone -->
<rect x="605" y="846" width="63" height="100" fill="#cddffb"/>
<text x="605.5" y="852.5" font-size="5.5" fill="#111">Choose payment option</text>
<g fill="#fff" stroke="#333" stroke-width="0.7"><rect x="607" y="857" width="7" height="7"/><rect x="607" y="876" width="7" height="7"/><rect x="607" y="894" width="7" height="7"/></g>
<path d="M608 860l2 3 4-7" stroke="#111" stroke-width="1" fill="none"/>
<g font-size="3.2" fill="#111">
<text x="615" y="859.5">Bank Name:</text><text x="615" y="865">Account #</text>
<text x="615" y="878">Paypal:</text><text x="615" y="883.5">Account #</text>
<text x="615" y="896.5">Pay to the order of:</text><text x="615" y="901.8">Name:</text><text x="615" y="907.2">Address:</text><text x="615" y="912.6">City:</text><text x="615" y="918">State:</text><text x="615" y="923.4">Zip Code:</text>
</g>
<g font-size="5.2" text-anchor="middle" fill="#111"><text x="697" y="914">Automatically</text><text x="697" y="921">updated from</text><text x="697" y="928">profile page.</text></g>

<!-- Expanded directions -->
<rect x="100" y="1062" width="60" height="110" fill="#cddffb"/>
<rect x="411" y="1062" width="60" height="108" fill="#cddffb"/>
<g font-size="5" text-anchor="middle" fill="#111"><text x="130" y="1075">Expanded</text><text x="130" y="1082">Directions</text><text x="441" y="1075">Expanded</text><text x="441" y="1082">Directions</text></g>
<path d="M105 1091h46M105 1095.5h28M105 1100h40M105 1104.5h46M105 1109h46M105 1113.5h28M105 1118h40M105 1122.5h46M105 1127h28M105 1131.5h40M105 1136h46M105 1140.5h46M105 1145h28M105 1149.5h40M105 1154h46M105 1158.5h46M416 1091h46M416 1095.5h28M416 1100h40M416 1104.5h46M416 1109h46M416 1113.5h28M416 1118h40M416 1122.5h46M416 1127h28M416 1131.5h40M416 1136h46M416 1140.5h46M416 1145h28M416 1149.5h40M416 1154h46M416 1158.5h46" stroke="#888" stroke-width="1.3"/>

<!-- Photo phone -->
<g fill="#c9c9c9" stroke="#888" stroke-width="0.6"><rect x="519" y="1065" width="42" height="42"/><rect x="519" y="1112" width="25" height="26"/><rect x="551" y="1112" width="25" height="26"/><rect x="519" y="1144" width="25" height="26"/><rect x="551" y="1144" width="25" height="26"/></g>
<path d="M519 1065L561 1107M561 1065L519 1107" stroke="#999" stroke-width="0.5"/>
<rect x="521" y="1067" width="37" height="6" fill="#fff" stroke="#666" stroke-width="0.5"/>
<text x="522.5" y="1071.5" font-size="2.5" fill="#333">Search...</text>
<g fill="#fff" stroke="#666" stroke-width="0.5"><rect x="521" y="1114" width="4" height="4"/><rect x="553" y="1114" width="4" height="4"/><rect x="521" y="1146" width="4" height="4"/><rect x="553" y="1146" width="4" height="4"/></g>
<g font-size="5" text-anchor="middle" fill="#111"><text x="540" y="1084">Profile</text><text x="540" y="1091">Pic</text><text x="531.5" y="1127">Photo</text><text x="563.5" y="1127">Photo</text><text x="531.5" y="1158">Photo</text><text x="563.5" y="1158">Photo</text></g>
<rect x="566" y="1066" width="12" height="7" fill="#0b6b36"/><rect x="566" y="1078" width="12" height="7" fill="#f21d1d"/><rect x="566" y="1090" width="12" height="7" fill="#5a5a5a"/>
<g font-size="2.6" fill="#fff" text-anchor="middle"><text x="572" y="1070.6">Add</text><text x="572" y="1082.6">Delete</text><text x="572" y="1094.6">Upload</text></g>

<!-- Bank phone -->
<rect x="608" y="1064" width="58" height="67" fill="#cddffb"/>
<rect x="608" y="1140" width="58" height="18" fill="#cddffb"/>
<g font-size="3" fill="#111"><text x="611" y="1070">Bank Name:</text><text x="611" y="1080">Address:</text><text x="611" y="1090">City:</text><text x="611" y="1100">State:</text><text x="611" y="1110">Zip Code:</text><text x="611" y="1119.5">Bank Phone:</text><text x="611" y="1146">Paypal Account #</text></g>
<g fill="#fff"><rect x="611" y="1071.5" width="51" height="4"/><rect x="611" y="1081.5" width="51" height="4"/><rect x="611" y="1091.5" width="51" height="4"/><rect x="611" y="1101.5" width="51" height="4"/><rect x="611" y="1111.5" width="51" height="4"/><rect x="611" y="1121" width="51" height="4"/><rect x="611" y="1148.5" width="51" height="4"/></g>

<!-- Back / Done / Edit buttons -->
<g fill="#1b70c8"><rect x="242" y="723" width="12" height="6.5" rx="1"/><rect x="459" y="723" width="12" height="6.5" rx="1"/><rect x="147" y="950" width="12" height="7" rx="1"/><rect x="242" y="950" width="12" height="7" rx="1"/><rect x="336" y="950" width="12" height="7" rx="1"/><rect x="459" y="948" width="12" height="7" rx="1"/><rect x="147" y="1165" width="12" height="7" rx="1"/><rect x="459" y="1165" width="12" height="7" rx="1"/></g>
<g fill="#16a394"><rect x="655" y="722" width="12" height="7" rx="1"/><rect x="656" y="947" width="12" height="7" rx="1"/><rect x="655" y="1163" width="12" height="8" rx="1"/></g>
<g font-size="2.6" fill="#fff" text-anchor="middle">
<text x="248" y="727.3">Back</text><text x="465" y="727.3">Back</text><text x="153" y="954.5">Back</text><text x="248" y="954.5">Back</text><text x="342" y="954.5">Back</text><text x="465" y="952.5">Back</text><text x="153" y="1169.5">Back</text><text x="465" y="1169.5">Back</text>
<text x="661" y="726.5">Done</text><text x="662" y="951.5">Edit</text><text x="661" y="1168">Done</text>
</g>

<!-- Connectors -->
<g fill="none" stroke="#1e3fdc" stroke-width="1.6" stroke-linecap="round" stroke-linejoin="round">
<path d="M176 201.5H893Q905 201.5 905 213.5V232"/>
<path d="M176 213.5H205M270 213.5H627Q637 213.5 637 223.5V371"/>
<path d="M176 226H205M270 226H430Q440 226 440 236V371"/>
<path d="M176 238H205M270 238H330Q340 238 340 248V338Q340 347 331 347H254Q245 347 245 356V371"/>
<path d="M266 470V547Q266 556 257 556H234Q225 556 225 565V594"/>
<path d="M441 478V595"/>
<path d="M605 497H557Q548 497 548 506V820"/>
<path d="M645 502V531Q645 540 636 540H588Q579 540 579 549V766Q579 775 588 775H628Q637 775 637 784V820"/>
<path d="M661 502V550Q661 559 652 559H646Q637 559 637 568V592"/>
<path d="M630 494V486Q630 478 638 478H743Q752 478 752 487V761Q752 770 761 770H891Q900 770 900 761V734Q900 725 909 725H945"/>
<path d="M195 631H140Q131 631 131 640V820"/>
<path d="M195 684H176Q167 684 167 693V767Q167 776 176 776H216Q225 776 225 785V820"/>
<path d="M256 713H309Q318 713 318 722V820"/>
<path d="M473 641H491Q500 641 500 650V765Q500 774 491 774H450Q441 774 441 783V820"/>
<path d="M473 662H490Q499 662 499 671V700"/>
<path d="M473 683H490Q499 683 499 692V720"/>
<path d="M473 705H490Q499 705 499 714V740"/>
<path d="M679 623H696Q705 623 705 632V893Q705 902 696 902H656"/>
<path d="M129 940V1038"/>
<path d="M441 940V1038"/>
<path d="M548 980V1038"/>
<path d="M664 955V1003Q664 1012 655 1012H647Q638 1012 638 1021V1036"/>
<path d="M519 908H501Q492 908 492 917V1240Q492 1253 505 1253H752Q765 1253 765 1240V897Q765 884 778 884H1060Q1069 884 1069 875V856"/>
<path d="M824 362V566"/>
<path d="M1002 345L993 456"/>
<path d="M847 636L945 703"/>
</g>

<!-- Membership Access box -->
<rect x="205" y="208" width="65" height="38" rx="5" fill="#cddffb" stroke="#b8cdf0" stroke-width="0.8"/>
<text x="212" y="216.3" font-size="3.4" font-weight="bold" fill="#111">New User?</text>
<rect x="240" y="211" width="25" height="7" fill="#0b6b36"/>
<text x="252.5" y="215.8" font-size="3.3" fill="#fff" text-anchor="middle">REGISTER</text>
<text x="237.5" y="226" font-size="5.5" text-anchor="middle" fill="#111">Membership Access</text>
<text x="237.5" y="233" font-size="3.8" text-anchor="middle" fill="#111">Password Required</text>
<rect x="211" y="235" width="53" height="7" fill="#eef0f4"/>
</svg>
</body></html>
